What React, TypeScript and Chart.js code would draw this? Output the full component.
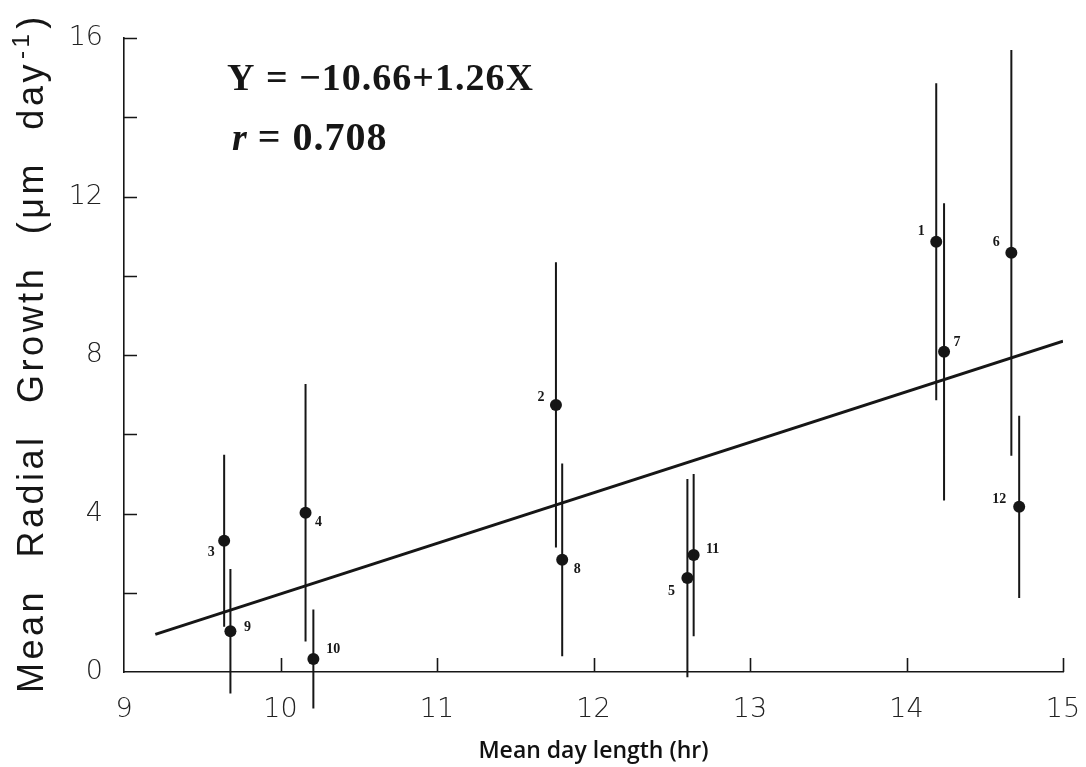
import React, { useEffect, useRef } from "react";
import { Chart, registerables } from "chart.js";

Chart.register(...registerables);

// ---- data ----
const pointIds = ["1", "2", "3", "4", "5", "6", "7", "8", "9", "10", "11", "12"];
const dayLength = [14.19, 11.76, 9.64, 10.16, 12.6, 14.67, 14.24, 11.8, 9.68, 10.21, 12.64, 14.72];
const meanGrowth = [10.86, 6.74, 3.31, 4.02, 2.37, 10.58, 8.08, 2.83, 1.03, 0.33, 2.95, 4.17];
const errorHalf = [4.0, 3.6, 2.17, 3.25, 2.5, 5.12, 3.75, 2.43, 1.57, 1.25, 2.05, 2.3];
const fitX = [9.2, 15.0];
const fitY = [0.95, 8.35];
const xTickValues = [9, 10, 11, 12, 13, 14, 15];
const yTickValues = [0, 2, 4, 6, 8, 10, 12, 14, 16];
const yLabelValues = [0, 4, 8, 12, 16];
const equationText = "Y = −10.66+1.26X";
const rText = " = 0.708";
const xTitle = "Mean day length (hr)";
const yTitleMain = "Mean Radial Growth (μm day";
const yTitleSup = "-1";
const yTitleEnd = ")";

// label placement (pixels, relative to each point)
const labelOffsets = [
  [-15, -10], [-15, -8], [-13, 12], [13, 10], [-16, 13], [-15, -10],
  [13, -9], [15, 10], [17, -4], [20, -10], [19, -6], [-20, -7],
];

const INK = "#161616";

const annotate = {
  id: "annotate",
  afterDatasetsDraw(chart: any) {
    const { ctx, scales, chartArea } = chart;
    const x = scales.x;
    const y = scales.y;
    ctx.save();
    // inward tick marks
    ctx.strokeStyle = INK;
    ctx.lineWidth = 1.6;
    ctx.beginPath();
    y.ticks.forEach((t: any) => {
      if (t.value === 0) return;
      const py = Math.round(y.getPixelForValue(t.value)) + 0.5;
      ctx.moveTo(chartArea.left, py);
      ctx.lineTo(chartArea.left + 13, py);
    });
    x.ticks.forEach((t: any) => {
      if (t.value === 9) return;
      const px = Math.round(x.getPixelForValue(t.value)) + 0.5;
      ctx.moveTo(px, chartArea.bottom);
      ctx.lineTo(px, chartArea.bottom - 14);
    });
    ctx.stroke();

    // point labels
    ctx.fillStyle = INK;
    ctx.font = 'bold 14px "Liberation Serif"';
    ctx.textAlign = "center";
    ctx.textBaseline = "middle";
    pointIds.forEach((id, i) => {
      const px = x.getPixelForValue(dayLength[i]) + labelOffsets[i][0];
      const py = y.getPixelForValue(meanGrowth[i]) + labelOffsets[i][1];
      ctx.fillText(id, px, py);
    });

    // equation
    ctx.textAlign = "left";
    ctx.textBaseline = "alphabetic";
    ctx.font = 'bold 38px "Liberation Serif"';
    (ctx as any).letterSpacing = "0px";
    const eqW = ctx.measureText(equationText).width;
    const eqSpacing = Math.max(0, (306 - eqW) / (equationText.length - 1));
    (ctx as any).letterSpacing = eqSpacing + "px";
    ctx.fillText(equationText, 227, 90);
    (ctx as any).letterSpacing = "0px";
    ctx.font = 'italic bold 38px "Liberation Serif"';
    ctx.fillText("r", 232, 150);
    const rW = ctx.measureText("r").width;
    ctx.font = 'bold 40px "Liberation Serif"';
    (ctx as any).letterSpacing = "1px";
    ctx.fillText(rText, 232 + rW, 150);

    // y-axis title
    ctx.translate(43, 693);
    ctx.rotate(-Math.PI / 2);
    ctx.font = '36px "Liberation Sans"';
    (ctx as any).letterSpacing = "3.5px";
    (ctx as any).wordSpacing = "18px";
    ctx.fillText(yTitleMain, 0, 0);
    let cx = ctx.measureText(yTitleMain).width;
    ctx.font = '24px "Liberation Sans"';
    ctx.fillText(yTitleSup, cx + 2, -14);
    cx += ctx.measureText(yTitleSup).width + 4;
    ctx.font = '36px "Liberation Sans"';
    ctx.fillText(yTitleEnd, cx, 0);
    ctx.restore();
  },
};

export default function App() {
  const ref = useRef<HTMLCanvasElement | null>(null);
  useEffect(() => {
    if (!ref.current) return;
    const errorBarData: any[] = [];
    dayLength.forEach((dx, i) => {
      errorBarData.push({ x: dx, y: meanGrowth[i] - errorHalf[i] });
      errorBarData.push({ x: dx, y: meanGrowth[i] + errorHalf[i] });
      errorBarData.push({ x: dx, y: null });
    });
    const chart = new Chart(ref.current, {
      type: "scatter",
      data: {
        datasets: [
          {
            type: "line",
            label: "fit",
            data: fitX.map((fx, i) => ({ x: fx, y: fitY[i] })),
            borderColor: INK,
            borderWidth: 3,
            pointRadius: 0,
            fill: false,
          } as any,
          {
            type: "line",
            label: "error",
            data: errorBarData,
            borderColor: INK,
            borderWidth: 2,
            pointRadius: 0,
            spanGaps: false,
            fill: false,
            clip: false,
          } as any,
          {
            type: "scatter",
            label: "points",
            data: dayLength.map((dx, i) => ({ x: dx, y: meanGrowth[i] })),
            backgroundColor: INK,
            borderWidth: 0,
            pointRadius: 6,
          } as any,
        ],
      },
      options: {
        animation: false,
        responsive: false,
        events: [],
        layout: { padding: { left: 0, top: 38, right: 23, bottom: 0 } },
        plugins: { legend: { display: false }, tooltip: { enabled: false } },
        scales: {
          x: {
            type: "linear",
            min: 9,
            max: 15,
            afterBuildTicks: (s: any) => {
              s.ticks = xTickValues.map((v) => ({ value: v }));
            },
            afterFit: (s: any) => {
              s.height = 95;
              s.paddingLeft = 0;
              s.paddingRight = 0;
            },
            ticks: {
              font: { family: "DejaVu Sans", size: 27, weight: "200" as any },
              color: "#222",
              padding: 22,
              maxRotation: 0,
              callback: (v: any) => String(v),
            },
            grid: { display: false, drawTicks: false },
            border: { display: true, color: INK, width: 1.6 },
            title: {
              display: true,
              text: xTitle,
              font: { family: "Open Sans", size: 23, weight: "600" as any },
              color: "#111",
              padding: { top: 0, bottom: 2 },
            },
          },
          y: {
            type: "linear",
            min: 0,
            max: 16,
            afterBuildTicks: (s: any) => {
              s.ticks = yTickValues.map((v) => ({ value: v }));
            },
            afterFit: (s: any) => {
              s.width = 124;
              s.paddingTop = 0;
              s.paddingBottom = 0;
            },
            ticks: {
              font: { family: "DejaVu Sans", size: 27, weight: "200" as any },
              color: "#222",
              padding: 21,
              callback: (v: any) => (yLabelValues.includes(Number(v)) ? String(v) : ""),
            },
            grid: { display: false, drawTicks: false },
            border: { display: true, color: INK, width: 1.6 },
          },
        },
      },
      plugins: [annotate],
    });
    return () => chart.destroy();
  }, []);
  return (
    <div style={{ position: "absolute", left: 0, top: 0, width: 1086, height: 767, background: "#fff" }}>
      <canvas ref={ref} width={1086} height={767} style={{ display: "block" }} />
    </div>
  );
}
